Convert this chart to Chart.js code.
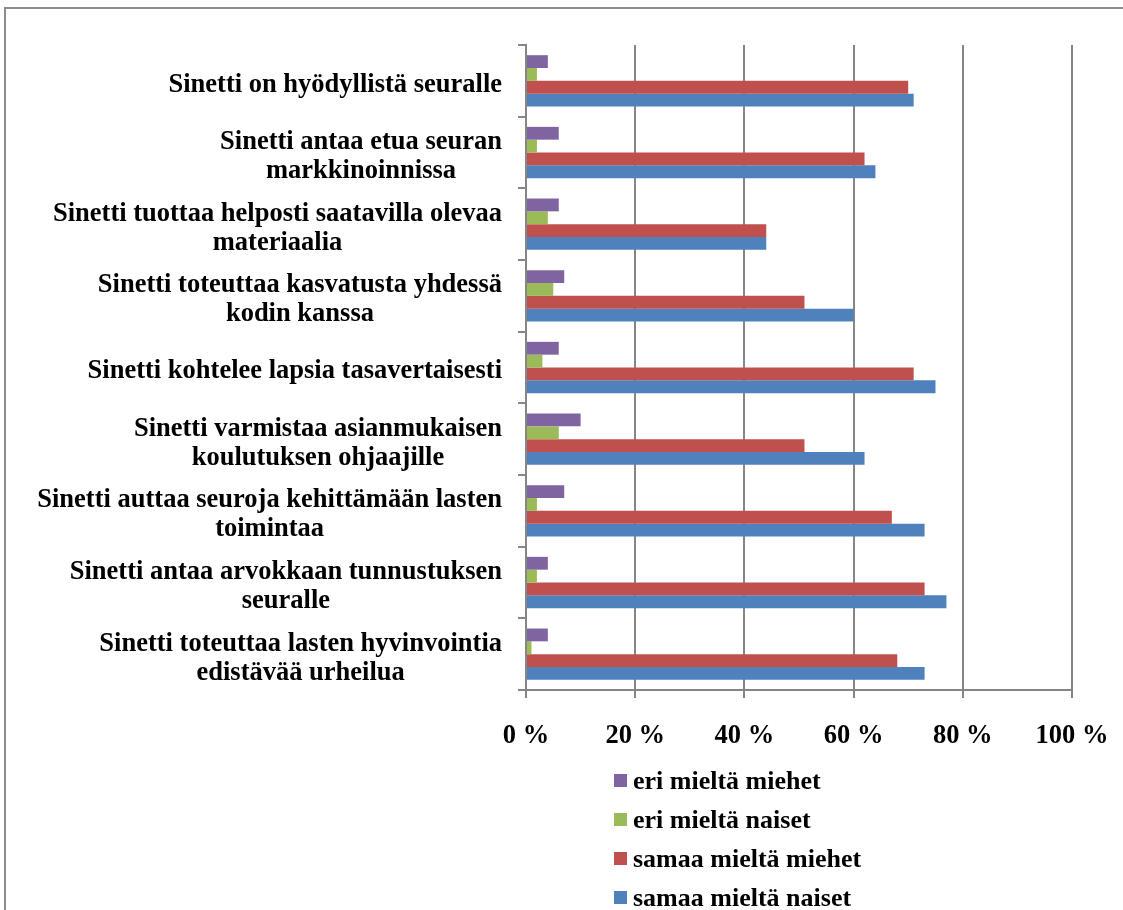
<!DOCTYPE html>
<html>
<head>
<meta charset="utf-8">
<script src="https://cdn.jsdelivr.net/npm/chart.js@4.4.1/dist/chart.umd.min.js"></script>
<style>
body{margin:0;background:#fff}
#wrap{position:relative;width:1123px;height:910px;overflow:hidden}
#frame{position:absolute;left:4px;top:7px;width:1200px;height:1000px;border:2px solid #8c8c8c}
#chart{position:absolute;left:0;top:0}
#legend{position:absolute;left:614px;top:761px;font:bold 26px "Liberation Serif",serif;color:#000}
.row{height:39px;display:flex;align-items:center}
.sw{width:13px;height:13px;margin-right:6px}
</style>
</head>
<body>
<div id="wrap">
  <div id="frame"></div>
  <canvas id="chart" width="1123" height="910"></canvas>
  <div id="legend"></div>
</div>
<script>
labels = [
    'Sinetti on hyödyllistä seuralle',
    ['Sinetti antaa etua seuran', 'markkinoinnissa'],
    ['Sinetti tuottaa helposti saatavilla olevaa', 'materiaalia'],
    ['Sinetti toteuttaa kasvatusta yhdessä', 'kodin kanssa'],
    'Sinetti kohtelee lapsia tasavertaisesti',
    ['Sinetti varmistaa asianmukaisen', 'koulutuksen ohjaajille'],
    ['Sinetti auttaa seuroja kehittämään lasten', 'toimintaa'],
    ['Sinetti antaa arvokkaan tunnustuksen', 'seuralle'],
    ['Sinetti toteuttaa lasten hyvinvointia', 'edistävää urheilua']
]

// percentages
eriMiehet   = [4, 6, 6, 7, 6, 10, 7, 4, 4]
eriNaiset   = [2, 2, 4, 5, 3, 6, 2, 2, 1]
samaaMiehet = [70, 62, 44, 51, 71, 51, 67, 73, 68]
samaaNaiset = [71, 64, 44, 60, 75, 62, 73, 77, 73]

seriesNames  = ['eri mieltä miehet', 'eri mieltä naiset', 'samaa mieltä miehet', 'samaa mieltä naiset']
seriesColors = ['#8064A2', '#9BBB59', '#C0504D', '#4F81BD']

xMin = 0
xMax = 100
xStep = 20

font = '"Liberation Serif", "Times New Roman", serif'
axisGray = '#868686'

values = [eriMiehet, eriNaiset, samaaMiehet, samaaNaiset]
datasets = values.map(function (v, i) {
    return {
        label: seriesNames[i],
        data: v,
        backgroundColor: seriesColors[i],
        barPercentage: 1,
        categoryPercentage: 0.716
    }
})

// category labels: block right aligned to the axis, lines centred in the block
yLabels = {
    id: 'yLabels',
    afterDraw: function (chart) {
        var ctx = chart.ctx, s = chart.scales.y
        ctx.save()
        ctx.font = 'bold 26.5px ' + font
        ctx.fillStyle = '#000'
        ctx.textAlign = 'center'
        ctx.textBaseline = 'middle'
        chart.data.labels.forEach(function (lab, i) {
            var lines = Array.isArray(lab) ? lab : [lab]
            var w = Math.max.apply(null, lines.map(function (l) { return ctx.measureText(l).width }))
            var cx = s.right - 24 - w / 2
            var cy = s.getPixelForValue(i) + 4
            lines.forEach(function (l, k) {
                ctx.fillText(l, cx, cy + (k - (lines.length - 1) / 2) * 29)
            })
        })
        ctx.restore()
    }
}

chart = new Chart(document.getElementById('chart').getContext('2d'), {
    type: 'bar',
    data: { labels: labels, datasets: datasets },
    plugins: [yLabels],
    options: {
        indexAxis: 'y',
        responsive: false,
        animation: false,
        layout: { padding: { top: 45, right: 51, left: 0, bottom: 0 } },
        plugins: { legend: { display: false }, tooltip: { enabled: false } },
        scales: {
            x: {
                min: xMin,
                max: xMax,
                ticks: {
                    stepSize: xStep,
                    color: '#000',
                    padding: 22,
                    font: { family: font, size: 26.5, weight: 'bold' },
                    callback: function (v) { return v + ' %' }
                },
                grid: { color: axisGray, lineWidth: 2, tickLength: 8 },
                border: { color: axisGray, width: 2 },
                afterFit: function (s) {
                    s.height = 220
                    s.paddingLeft = 0
                    s.paddingRight = 0
                }
            },
            y: {
                ticks: { display: false },
                grid: { drawOnChartArea: false, color: axisGray, lineWidth: 2, tickLength: 8 },
                border: { color: axisGray, width: 2 },
                afterFit: function (s) { s.width = 526 }
            }
        }
    }
})

legend = document.getElementById('legend')
seriesNames.forEach(function (name, i) {
    var row = document.createElement('div')
    row.className = 'row'
    var sw = document.createElement('span')
    sw.className = 'sw'
    sw.style.background = seriesColors[i]
    var t = document.createElement('span')
    t.textContent = name
    row.appendChild(sw)
    row.appendChild(t)
    legend.appendChild(row)
})
</script>
</body>
</html>
